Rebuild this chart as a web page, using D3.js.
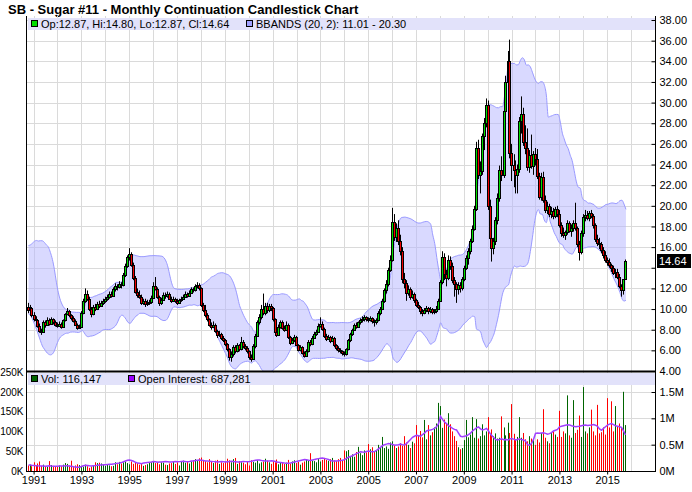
<!DOCTYPE html>
<meta charset="utf-8">
<style>
body { margin: 0; background: #fff; }
text { font-family: "Liberation Sans", Arial, sans-serif; }
</style>
<body>
<script src="https://d3js.org/d3.v7.min.js"></script>
<script>

var w = 692, h = 492;

// monthly bars, Oct 1990 .. Oct 2015 (cents/lb)
var open = [
  10.2, 9.9, 10.1,
  9.4, 9.0, 8.9, 8.4, 7.9, 7.8, 8.7, 8.5, 8.9, 8.6, 9.0, 8.7,
  8.5, 8.4, 8.6, 8.3, 8.9, 9.5, 9.8, 9.4, 9.1, 8.8, 8.5, 8.2,
  8.3, 9.6, 10.8, 11.5, 11.0, 10.0, 9.5, 10.2, 10.0, 10.5, 10.3, 10.6,
  10.8, 11.0, 11.2, 11.5, 11.3, 11.9, 12.2, 12.1, 12.4, 12.3, 13.3, 14.2,
  15.0, 15.3, 14.3, 13.0, 11.7, 11.4, 11.2, 10.6, 10.8, 10.5, 10.6, 10.7,
  11.1, 12.2, 11.9, 11.2, 10.6, 10.9, 11.4, 11.3, 11.5, 11.0, 10.8, 11.0,
  10.8, 10.6, 10.9, 11.0, 11.2, 11.5, 11.3, 11.6, 11.9, 11.8, 12.2, 12.3,
  12.0, 10.4, 9.9, 9.4, 9.0, 8.5, 8.3, 8.5, 7.9, 7.5, 7.6, 7.2,
  7.0, 6.6, 6.1, 5.4, 5.6, 6.3, 5.9, 6.5, 6.1, 6.8, 6.4, 6.2,
  5.9, 5.4, 5.2, 6.4, 7.4, 8.7, 9.2, 10.0, 9.6, 10.3, 9.9, 10.3,
  10.1, 9.0, 7.8, 7.5, 8.3, 8.7, 8.2, 8.0, 8.5, 7.3, 6.7, 7.0,
  7.3, 6.5, 6.0, 6.3, 5.7, 5.5, 5.9, 6.8, 6.6, 7.2, 7.6, 7.8,
  8.4, 8.6, 8.1, 7.4, 7.1, 7.3, 6.9, 7.2, 6.5, 6.2, 6.0, 5.9,
  5.7, 5.6, 6.1, 7.0, 7.6, 8.0, 8.5, 8.3, 8.7, 8.9, 9.0, 9.2,
  9.0, 8.9, 9.1, 8.8, 8.7, 8.9, 9.6, 10.0, 10.8, 11.8, 12.4, 13.8,
  14.8, 18.4, 17.0, 17.9, 16.6, 15.6, 12.9, 12.5, 11.6, 11.9, 11.2, 11.5,
  10.9, 10.4, 10.2, 9.8, 9.6, 9.9, 10.1, 9.8, 10.0, 9.7, 9.8, 10.0,
  10.8, 12.6, 15.0, 13.4, 13.0, 14.8, 14.2, 12.8, 12.4, 11.9, 12.3, 12.0,
  12.9, 14.0, 14.9, 15.6, 16.6, 17.8, 19.7, 25.6, 23.0, 23.4, 26.8, 28.0,
  29.8, 20.0, 16.9, 15.9, 16.6, 18.6, 20.8, 23.5, 23.0, 29.2, 32.0, 34.0,
  25.1, 24.0, 23.5, 23.0, 23.6, 28.2, 28.9, 26.2, 25.6, 23.8, 24.9, 23.9,
  25.0, 24.5, 22.9, 20.9, 22.8, 20.6, 19.6, 20.0, 19.2, 19.5, 19.0, 19.7,
  19.2, 18.1, 17.4, 17.2, 17.5, 18.3, 17.6, 17.9, 18.3, 17.9, 16.3, 15.5,
  17.4, 18.9, 19.1, 18.8, 19.3, 19.0, 18.1, 16.8, 16.4, 16.3, 15.7, 15.2,
  14.8, 14.6, 14.3, 14.0, 13.5, 13.6, 13.1, 12.2, 11.8, 12.87
];
var high = [
  10.6, 10.4, 10.2,
  9.7, 9.3, 9.0, 8.6, 8.1, 8.9, 8.9, 9.2, 9.1, 9.2, 9.1, 8.9,
  8.7, 8.8, 8.7, 9.0, 9.6, 10.1, 9.9, 9.5, 9.3, 9.0, 8.6, 8.5,
  9.8, 11.0, 12.0, 11.8, 11.2, 10.2, 10.4, 10.5, 10.7, 10.8, 10.8, 11.0,
  11.2, 11.4, 11.7, 11.7, 12.1, 12.5, 12.4, 12.7, 12.6, 13.5, 14.4, 15.2,
  15.9, 15.5, 14.5, 13.2, 12.0, 11.8, 11.4, 11.0, 11.0, 10.9, 10.9, 11.3,
  12.6, 13.1, 12.1, 11.3, 11.1, 11.6, 11.6, 11.7, 11.6, 11.2, 11.2, 11.1,
  11.0, 11.0, 11.2, 11.4, 11.7, 11.6, 11.8, 12.1, 12.1, 12.4, 12.6, 12.5,
  12.1, 10.6, 10.4, 9.6, 9.1, 8.7, 8.8, 8.6, 8.0, 7.9, 7.7, 7.4,
  7.1, 6.7, 6.2, 5.9, 6.5, 6.5, 6.7, 6.6, 7.3, 7.0, 6.6, 6.4,
  6.0, 5.6, 6.6, 7.6, 8.9, 9.5, 10.4, 11.5, 10.6, 10.6, 10.5, 10.5,
  10.2, 9.1, 8.0, 8.5, 8.9, 8.9, 8.4, 8.8, 8.6, 7.4, 7.2, 7.5,
  7.4, 6.6, 6.5, 6.4, 5.9, 6.1, 7.0, 7.0, 7.4, 7.8, 8.0, 8.6,
  9.2, 8.8, 8.2, 7.6, 7.5, 7.4, 7.4, 7.3, 6.6, 6.4, 6.2, 6.0,
  5.9, 6.2, 7.1, 7.7, 8.1, 8.6, 8.7, 8.8, 9.1, 9.3, 9.4, 9.3,
  9.2, 9.3, 9.2, 9.0, 9.1, 9.8, 10.2, 11.0, 12.0, 12.8, 14.0, 15.2,
  19.8, 19.2, 18.3, 18.6, 17.2, 16.0, 13.5, 12.8, 12.3, 12.1, 11.8, 11.6,
  11.0, 10.7, 10.3, 10.0, 10.1, 10.3, 10.2, 10.2, 10.1, 10.0, 10.3, 11.0,
  12.8, 15.6, 15.4, 13.8, 15.2, 15.1, 14.5, 13.1, 12.6, 12.6, 12.6, 13.1,
  14.2, 15.2, 15.9, 16.8, 18.1, 20.0, 26.2, 26.4, 24.3, 27.0, 28.5, 30.4,
  30.2, 20.6, 17.3, 16.9, 18.9, 21.2, 23.9, 24.8, 29.6, 32.6, 35.0, 36.1,
  26.0, 25.0, 24.4, 24.0, 28.6, 30.6, 29.5, 27.8, 27.5, 25.4, 26.9, 25.3,
  25.6, 25.5, 23.2, 23.2, 23.3, 21.0, 20.4, 20.2, 19.9, 19.8, 19.9, 20.0,
  19.6, 18.4, 17.9, 17.6, 18.6, 18.5, 18.2, 18.6, 20.3, 18.0, 16.6, 17.6,
  19.2, 19.6, 19.5, 19.5, 19.6, 19.2, 18.3, 17.2, 16.9, 16.5, 16.0, 15.6,
  15.0, 14.9, 14.4, 14.2, 13.9, 13.9, 13.4, 12.4, 12.9, 14.80
];
var low = [
  9.6, 9.6, 9.2,
  8.8, 8.6, 8.2, 7.7, 7.5, 7.7, 8.2, 8.4, 8.4, 8.5, 8.5, 8.3,
  8.2, 8.3, 8.1, 8.2, 8.8, 9.4, 9.2, 8.9, 8.7, 8.4, 8.0, 8.1,
  8.2, 9.5, 10.6, 10.8, 9.8, 9.2, 9.4, 9.8, 9.9, 10.1, 10.2, 10.4,
  10.6, 10.8, 11.0, 11.1, 11.2, 11.7, 11.8, 12.0, 12.0, 12.2, 13.1, 14.0,
  14.7, 14.1, 12.8, 11.5, 11.1, 11.0, 10.4, 10.4, 10.2, 10.3, 10.4, 10.5,
  11.0, 11.8, 11.0, 10.3, 10.4, 10.8, 11.0, 11.1, 10.9, 10.6, 10.7, 10.6,
  10.4, 10.5, 10.7, 10.9, 11.1, 11.1, 11.2, 11.5, 11.6, 11.7, 12.0, 11.8,
  10.2, 9.7, 9.2, 8.8, 8.3, 8.0, 8.2, 7.7, 7.2, 7.3, 7.0, 6.8,
  6.4, 5.9, 5.0, 4.9, 5.4, 5.7, 5.8, 5.9, 6.0, 6.2, 6.0, 5.7,
  5.1, 4.9, 5.1, 6.2, 7.3, 8.5, 9.0, 9.4, 9.4, 9.6, 9.7, 9.8,
  8.8, 7.6, 7.3, 7.4, 8.1, 8.0, 7.8, 7.9, 7.1, 6.5, 6.6, 6.8,
  6.4, 5.9, 5.9, 5.6, 5.3, 5.4, 5.8, 6.4, 6.5, 7.1, 7.4, 7.7,
  8.2, 7.9, 7.2, 6.9, 7.0, 6.7, 6.8, 6.3, 6.0, 5.8, 5.7, 5.5,
  5.4, 5.5, 6.0, 6.8, 7.4, 7.9, 8.1, 8.2, 8.5, 8.7, 8.8, 8.8,
  8.7, 8.8, 8.6, 8.3, 8.5, 8.8, 9.4, 9.9, 10.6, 11.5, 12.2, 13.6,
  14.6, 16.6, 16.5, 16.2, 15.2, 12.5, 12.0, 10.8, 11.3, 10.9, 11.0, 10.6,
  10.2, 10.0, 9.5, 9.3, 9.5, 9.7, 9.5, 9.6, 9.5, 9.5, 9.6, 9.9,
  10.7, 12.4, 12.8, 12.2, 12.8, 13.8, 12.5, 11.2, 10.6, 11.4, 11.6, 11.8,
  12.7, 13.8, 14.3, 15.3, 16.4, 17.6, 19.5, 22.6, 21.2, 23.0, 25.4, 27.6,
  19.6, 16.6, 14.6, 15.3, 16.2, 18.2, 20.4, 22.4, 22.7, 28.5, 30.8, 24.6,
  22.4, 21.8, 21.2, 21.2, 23.2, 27.0, 25.8, 25.0, 23.4, 23.2, 23.6, 23.0,
  23.9, 22.6, 20.6, 20.5, 20.3, 19.3, 19.2, 18.9, 18.8, 18.7, 18.8, 18.9,
  17.9, 17.0, 16.9, 16.7, 17.2, 17.4, 17.0, 17.5, 17.6, 16.0, 14.7, 15.3,
  17.0, 18.5, 18.6, 18.5, 18.8, 17.8, 16.5, 16.1, 15.8, 15.4, 14.9, 14.5,
  14.2, 14.0, 13.6, 13.3, 13.0, 12.9, 12.0, 11.2, 11.4, 12.87
];
var close = [
  9.9, 10.1, 9.4,
  9.0, 8.9, 8.4, 7.9, 7.8, 8.7, 8.5, 8.9, 8.6, 9.0, 8.7, 8.5,
  8.4, 8.6, 8.3, 8.9, 9.5, 9.8, 9.4, 9.1, 8.8, 8.5, 8.2, 8.3,
  9.6, 10.8, 11.5, 11.0, 10.0, 9.5, 10.2, 10.0, 10.5, 10.3, 10.6, 10.8,
  11.0, 11.2, 11.5, 11.3, 11.9, 12.2, 12.1, 12.4, 12.3, 13.3, 14.2, 15.0,
  15.3, 14.3, 13.0, 11.7, 11.4, 11.2, 10.6, 10.8, 10.5, 10.6, 10.7, 11.1,
  12.2, 11.9, 11.2, 10.6, 10.9, 11.4, 11.3, 11.5, 11.0, 10.8, 11.0, 10.8,
  10.6, 10.9, 11.0, 11.2, 11.5, 11.3, 11.6, 11.9, 11.8, 12.2, 12.3, 12.0,
  10.4, 9.9, 9.4, 9.0, 8.5, 8.3, 8.5, 7.9, 7.5, 7.6, 7.2, 7.0,
  6.6, 6.1, 5.4, 5.6, 6.3, 5.9, 6.5, 6.1, 6.8, 6.4, 6.2, 5.9,
  5.4, 5.2, 6.4, 7.4, 8.7, 9.2, 10.0, 9.6, 10.3, 9.9, 10.3, 10.1,
  9.0, 7.8, 7.5, 8.3, 8.7, 8.2, 8.0, 8.5, 7.3, 6.7, 7.0, 7.3,
  6.5, 6.0, 6.3, 5.7, 5.5, 5.9, 6.8, 6.6, 7.2, 7.6, 7.8, 8.4,
  8.6, 8.1, 7.4, 7.1, 7.3, 6.9, 7.2, 6.5, 6.2, 6.0, 5.9, 5.7,
  5.6, 6.1, 7.0, 7.6, 8.0, 8.5, 8.3, 8.7, 8.9, 9.0, 9.2, 9.0,
  8.9, 9.1, 8.8, 8.7, 8.9, 9.6, 10.0, 10.8, 11.8, 12.4, 13.8, 14.8,
  18.4, 17.0, 17.9, 16.6, 15.6, 12.9, 12.5, 11.6, 11.9, 11.2, 11.5, 10.9,
  10.4, 10.2, 9.8, 9.6, 9.9, 10.1, 9.8, 10.0, 9.7, 9.8, 10.0, 10.8,
  12.6, 15.0, 13.4, 13.0, 14.8, 14.2, 12.8, 12.4, 11.9, 12.3, 12.0, 12.9,
  14.0, 14.9, 15.6, 16.6, 17.8, 19.7, 25.6, 23.0, 23.4, 26.8, 28.0, 29.8,
  20.0, 16.9, 15.9, 16.6, 18.6, 20.8, 23.5, 23.0, 29.2, 32.0, 34.0, 25.1,
  24.0, 23.5, 23.0, 23.6, 28.2, 28.9, 26.2, 25.6, 23.8, 24.9, 23.9, 25.0,
  24.5, 22.9, 20.9, 22.8, 20.6, 19.6, 20.0, 19.2, 19.5, 19.0, 19.7, 19.2,
  18.1, 17.4, 17.2, 17.5, 18.3, 17.6, 17.9, 18.3, 17.9, 16.3, 15.5, 17.4,
  18.9, 19.1, 18.8, 19.3, 19.0, 18.1, 16.8, 16.4, 16.3, 15.7, 15.2, 14.8,
  14.6, 14.3, 14.0, 13.5, 13.6, 13.1, 12.2, 11.8, 12.87, 14.64
];

// closes Mar 1989 .. Sep 1990, only used to start the 20-month bands
var priorClose = [11.0, 11.3, 11.9, 13.2, 14.2, 13.3, 13.1, 13.3, 13.6, 13.1,
  14.6, 14.8, 15.5, 15.4, 14.0, 12.5, 11.3, 10.6, 10.2];

// volume, thousands of contracts
var volume = [
  14, 16, 12,
  22, 15, 19, 24, 13, 16, 12, 11, 25, 15, 13, 12,
  11, 14, 12, 16, 20, 18, 14, 26, 12, 14, 17, 15,
  13, 11, 16, 12, 8, 11, 14, 22, 20, 21, 19, 15,
  13, 16, 14, 12, 13, 22, 17, 23, 19, 22, 24, 20,
  17, 24, 18, 22, 20, 16, 18, 13, 15, 17, 20, 22,
  24, 20, 23, 17, 22, 21, 16, 15, 19, 20, 24, 18,
  22, 14, 24, 26, 21, 25, 19, 24, 27, 30, 25, 32,
  34, 28, 25, 22, 30, 24, 20, 26, 28, 18, 22, 20,
  24, 31, 27, 22, 30, 33, 18, 25, 22, 21, 17, 25,
  14, 27, 23, 21, 27, 19, 22, 24, 31, 26, 22, 18,
  25, 22, 29, 17, 22, 20, 18, 21, 28, 19, 24, 27,
  20, 23, 16, 21, 24, 30, 28, 45, 26, 25, 22, 30,
  24, 28, 33, 28, 26, 30, 33, 27, 25, 30, 33, 28,
  52, 50, 53, 38, 42, 36, 48, 61, 45, 40, 52, 47,
  68, 55, 60, 48, 52, 66, 60, 86, 58, 62, 56, 72,
  75, 66, 58, 62, 70, 64, 88, 72, 66, 58, 74, 70,
  116, 90, 101, 85, 129, 80, 116, 90, 98, 110, 120, 172,
  164, 109, 130, 120, 146, 118, 100, 88, 76, 60, 55, 58,
  78, 129, 85, 92, 136, 84, 131, 82, 88, 118, 90, 100,
  136, 92, 105, 88, 95, 82, 84, 138, 110, 90, 122, 96,
  169, 94, 80, 86, 136, 84, 96, 80, 75, 88, 82, 78,
  66, 80, 72, 96, 156, 84, 75, 70, 96, 100, 92, 86,
  152, 86, 100, 95, 191, 90, 84, 179, 96, 104, 140, 86,
  212, 100, 95, 110, 155, 100, 90, 167, 95, 98, 110, 92,
  184, 110, 176, 100, 164, 112, 120, 110, 200, 116
];

// open interest, thousands of contracts
var openInterest = [
  115, 112, 108,
  105, 100, 98, 95, 94, 96, 92, 95, 98, 94, 92, 90,
  92, 95, 94, 96, 100, 98, 92, 88, 80, 75, 70, 72,
  85, 100, 110, 105, 98, 95, 100, 102, 108, 112, 115, 118,
  120, 125, 130, 128, 135, 140, 145, 150, 160, 175, 190, 205,
  210, 200, 185, 165, 150, 145, 140, 150, 155, 160, 165, 170,
  180, 175, 165, 170, 172, 176, 178, 175, 170, 172, 176, 180,
  176, 178, 182, 185, 180, 178, 182, 188, 192, 200, 205, 210,
  205, 198, 192, 190, 186, 182, 178, 175, 172, 176, 180, 175,
  170, 176, 182, 185, 180, 176, 172, 170, 175, 180, 178, 176,
  180, 185, 195, 205, 210, 208, 200, 195, 190, 188, 192, 196,
  190, 180, 170, 165, 160, 155, 150, 148, 145, 150, 160, 170,
  180, 190, 200, 210, 220, 215, 205, 200, 210, 220, 228, 235,
  240, 245, 238, 230, 220, 200, 190, 188, 192, 196, 200, 205,
  215, 240, 260, 275, 290, 310, 330, 350, 365, 360, 358, 370,
  378, 372, 365, 372, 390, 420, 450, 480, 500, 510, 520, 515,
  505, 490, 495, 500, 510, 500, 495, 520, 560, 600, 640, 660,
  680, 670, 660, 690, 720, 760, 775, 780, 790, 810, 840, 900,
  1040, 980, 930, 900, 860, 840, 810, 790, 780, 720, 660, 650,
  660, 670, 690, 720, 760, 790, 820, 838, 800, 780, 790, 810,
  760, 700, 680, 640, 600, 590, 600, 610, 590, 600, 590, 605,
  617, 600, 590, 600, 610, 599, 590, 570, 500, 491, 520, 600,
  712, 720, 715, 720, 725, 715, 700, 710, 730, 760, 775, 790,
  838, 850, 860, 870, 880, 875, 860, 850, 840, 845, 850, 860,
  870, 875, 865, 870, 875, 882, 870, 850, 800, 775, 810, 840,
  870, 890, 900, 880, 860, 850, 840, 830, 760, 687
];

var priceTicks = d3.range(4, 39, 2);
var volTicks = [0, 50, 100, 150, 200, 250];
var oiTicks = [0, 500, 1000, 1500];
var yearLabels = d3.range(1991, 2016, 2);

var title = "SB - Sugar #11 - Monthly Continuation Candlestick Chart";
var bbLabel = "BBANDS (20, 2): 11.01 - 20.30";
var volLabel = "Vol: 116,147";
var oiLabel = "Open Interest: 687,281";

var upColor = "#00dd00", downColor = "#ee0000";
var volUp = "#006400", volDown = "#ff0000";

var months = close.map(function(d, i) { return new Date(1990, 9 + i, 15); });
var idx = d3.range(close.length);
var last = close.length - 1;

var left = 27, right = 655, pTop = 16, pBot = 371, vTop = 372, vBot = 471;

var x = d3.scaleTime()
    .domain([new Date(1990, 8, 22), new Date(2017, 0, 1)])
    .range([left, right]);
var y = d3.scaleLinear().domain([4, 38]).range([pBot, 20]);
var yVol = d3.scaleLinear().domain([0, 250]).range([vBot, vTop]);
var yOI = d3.scaleLinear().domain([0, 1500]).range([vBot, 392]);

function cx(i) { return Math.round(x(months[i])); }

// bollinger bands from the closes
var allClose = priorClose.concat(close);
var bands = idx.map(function(i) {
    var end = i + priorClose.length;
    var win = allClose.slice(end - 19, end + 1);
    var m = d3.mean(win);
    var sd = Math.sqrt(d3.mean(win, function(v) { return (v - m) * (v - m); }));
    return { i: i, up: m + 2 * sd, lo: m - 2 * sd };
});

var svg = d3.select("body").append("svg")
    .attr("width", w)
    .attr("height", h);

svg.append("rect").attr("width", w).attr("height", h).attr("fill", "#fff");

var defs = svg.append("defs");
defs.append("clipPath").attr("id", "pclip")
    .append("rect").attr("x", left).attr("y", pTop).attr("width", right - left).attr("height", pBot - pTop);
defs.append("clipPath").attr("id", "vclip")
    .append("rect").attr("x", left).attr("y", vTop).attr("width", right - left).attr("height", vBot - vTop);

// title
svg.append("text")
    .attr("x", 8).attr("y", 14)
    .attr("font-size", "13px")
    .attr("font-weight", "bold")
    .text(title);

// grid
var years = d3.timeYear.range(new Date(1991, 0, 1), new Date(2017, 0, 1));
var grid = svg.append("g").attr("stroke", "#dadada").attr("stroke-width", 1);
grid.selectAll(".vg1").data(years).join("line")
    .attr("x1", function(d) { return Math.round(x(d)) + 0.5; })
    .attr("x2", function(d) { return Math.round(x(d)) + 0.5; })
    .attr("y1", pTop).attr("y2", pBot);
grid.selectAll(".vg2").data(years).join("line")
    .attr("class", "vg2")
    .attr("x1", function(d) { return Math.round(x(d)) + 0.5; })
    .attr("x2", function(d) { return Math.round(x(d)) + 0.5; })
    .attr("y1", vTop).attr("y2", vBot);
grid.selectAll(".hg").data(priceTicks.slice(1)).join("line")
    .attr("class", "hg")
    .attr("x1", left).attr("x2", right)
    .attr("y1", function(d) { return Math.round(y(d)) + 0.5; })
    .attr("y2", function(d) { return Math.round(y(d)) + 0.5; });
grid.selectAll(".vhg").data(oiTicks.slice(1)).join("line")
    .attr("class", "vhg")
    .attr("x1", left).attr("x2", right)
    .attr("y1", function(d) { return Math.round(yOI(d)) + 0.5; })
    .attr("y2", function(d) { return Math.round(yOI(d)) + 0.5; });

// bands
var pricePanel = svg.append("g").attr("clip-path", "url(#pclip)");
pricePanel.append("path")
    .datum(bands)
    .attr("fill", "#b4b4ff")
    .attr("fill-opacity", 0.5)
    .attr("d", d3.area()
        .x(function(d) { return x(months[d.i]); })
        .y0(function(d) { return y(d.lo); })
        .y1(function(d) { return y(d.up); })
        .curve(d3.curveMonotoneX));
["up", "lo"].forEach(function(k) {
    pricePanel.append("path")
        .datum(bands)
        .attr("fill", "none")
        .attr("stroke", "#9a9aff")
        .attr("stroke-width", 1)
        .attr("d", d3.line()
            .x(function(d) { return x(months[d.i]); })
            .y(function(d) { return y(d[k]); })
            .curve(d3.curveMonotoneX));
});

// candles
var candles = pricePanel.append("g");
candles.selectAll("line").data(idx).join("line")
    .attr("x1", function(i) { return cx(i) - 0.5; })
    .attr("x2", function(i) { return cx(i) - 0.5; })
    .attr("y1", function(i) { return y(high[i]); })
    .attr("y2", function(i) { return y(low[i]); })
    .attr("stroke", "#000")
    .attr("stroke-width", 1);
candles.selectAll("rect").data(idx).join("rect")
    .attr("x", function(i) { return cx(i) - 1.5; })
    .attr("width", 2)
    .attr("y", function(i) { return Math.round(y(Math.max(open[i], close[i]))) + 0.5; })
    .attr("height", function(i) {
        return Math.max(1, Math.round(y(Math.min(open[i], close[i]))) - Math.round(y(Math.max(open[i], close[i]))));
    })
    .attr("fill", function(i) { return close[i] >= open[i] ? upColor : downColor; })
    .attr("stroke", "#000")
    .attr("stroke-width", 1);

// volume + open interest
var volPanel = svg.append("g").attr("clip-path", "url(#vclip)");
volPanel.selectAll("rect").data(idx).join("rect")
    .attr("x", function(i) { return cx(i) - 1; })
    .attr("width", 1)
    .attr("y", function(i) { return yVol(volume[i]); })
    .attr("height", function(i) { return vBot - yVol(volume[i]); })
    .attr("fill", function(i) { return close[i] >= open[i] ? volUp : volDown; });
volPanel.append("path")
    .datum(idx)
    .attr("fill", "none")
    .attr("stroke", "#a040ff")
    .attr("stroke-width", 1.5)
    .attr("d", d3.line()
        .x(function(i) { return cx(i) - 0.5; })
        .y(function(i) { return yOI(openInterest[i]); }));

// legend bands
function legendBand(y0, items) {
    svg.append("rect")
        .attr("x", left + 1).attr("y", y0)
        .attr("width", right - left - 1).attr("height", 12)
        .attr("fill", "#e2e2fa");
    items.forEach(function(it) {
        svg.append("rect")
            .attr("x", it.x + 0.5).attr("y", y0 + 2.5)
            .attr("width", 6).attr("height", 6)
            .attr("fill", it.color).attr("stroke", "#000");
        svg.append("text")
            .attr("x", it.x + 10).attr("y", y0 + 10)
            .attr("font-size", "11px")
            .text(it.label);
    });
}
var f2 = d3.format(".2f");
legendBand(pTop + 2, [
    { x: 31, color: upColor, label: "Op:" + f2(open[last]) + ", Hi:" + f2(high[last]) + ", Lo:" + f2(low[last]) + ", Cl:" + f2(close[last]) },
    { x: 246, color: "#a0a0ff", label: bbLabel }
]);
legendBand(vTop + 1, [
    { x: 31, color: volUp, label: volLabel },
    { x: 128, color: "#9900ff", label: oiLabel }
]);

// axes
var pAxis = svg.append("g")
    .attr("transform", "translate(" + (right + 0.5) + ",0)")
    .call(d3.axisRight(y).tickValues(priceTicks).tickSize(-4).tickPadding(4)
        .tickFormat(function(d) { return d === 14 ? "" : f2(d); }));
var oiAxis = svg.append("g")
    .attr("transform", "translate(" + (right + 0.5) + ",0)")
    .call(d3.axisRight(yOI).tickValues(oiTicks).tickSize(-4).tickPadding(4)
        .tickFormat(function(d) { return (d / 1000) + "M"; }));
var vAxis = svg.append("g")
    .attr("transform", "translate(" + (left - 0.5) + ",0)")
    .call(d3.axisLeft(yVol).tickValues(volTicks).tickSize(0).tickPadding(3)
        .tickFormat(function(d) { return d + "K"; }));
var xAxis = svg.append("g")
    .attr("transform", "translate(0," + (vBot + 0.5) + ")")
    .call(d3.axisBottom(x)
        .tickValues(yearLabels.map(function(yr) { return new Date(yr, 0, 1); }))
        .tickSize(3).tickPadding(2)
        .tickFormat(d3.timeFormat("%Y")));

[pAxis, oiAxis, vAxis, xAxis].forEach(function(g) {
    g.selectAll("text").attr("font-family", "Liberation Sans, Arial, sans-serif")
        .attr("font-size", "11px").attr("fill", "#000");
    g.selectAll("line").attr("stroke", "#000");
    g.select(".domain").remove();
});
vAxis.selectAll("text").attr("font-size", "10px");

// frame
var frame = svg.append("g").attr("stroke", "#000").attr("fill", "none");
frame.append("line").attr("x1", left - 0.5).attr("x2", left - 0.5).attr("y1", pTop).attr("y2", vBot + 1);
frame.append("line").attr("x1", right + 0.5).attr("x2", right + 0.5).attr("y1", pTop).attr("y2", vBot + 1);
frame.append("line").attr("x1", left).attr("x2", right).attr("y1", vBot + 0.5).attr("y2", vBot + 0.5);
frame.append("line").attr("x1", left).attr("x2", right + 1).attr("y1", pBot + 0.5).attr("y2", pBot + 0.5)
    .attr("stroke-width", 2);

// last price marker
var yl = Math.round(y(close[last]));
svg.append("rect")
    .attr("x", right + 2).attr("y", yl - 7)
    .attr("width", 34).attr("height", 14)
    .attr("fill", "#000");
svg.append("text")
    .attr("x", right + 4).attr("y", yl + 4)
    .attr("font-size", "11px")
    .attr("fill", "#fff")
    .text(f2(close[last]));

</script>
</body>
